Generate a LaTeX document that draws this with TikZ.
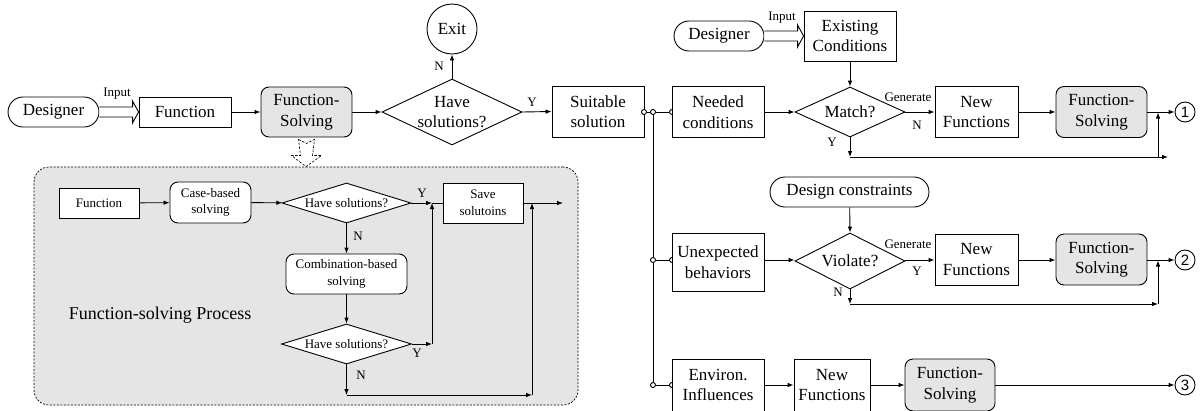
\documentclass[tikz,border=0pt]{standalone}
\usepackage{fontspec}
\setmainfont{Liberation Serif}
\newfontfamily\circfont{Liberation Sans}
\usetikzlibrary{shapes.geometric,arrows.meta,calc}
\tikzset{
  arr/.style={-{Latex[length=6pt,width=4.6pt]}},
  box/.style={draw, fill=white, inner sep=0pt, align=center},
  gbox/.style={draw, fill=gray!20, rounded corners=8pt, inner sep=0pt, align=center},
  rbox/.style={draw, fill=white, rounded corners=8pt, inner sep=0pt, align=center},
  stad/.style={draw, fill=white, rounded corners=15pt, inner sep=0pt, minimum height=30pt},
  dia/.style={diamond, draw, fill=white, inner sep=0pt},
  sc/.style={circle, draw, fill=white, minimum size=5pt, inner sep=0pt},
  numc/.style={circle, draw, fill=white, minimum size=20pt, inner sep=0pt, font=\circfont\fontsize{15}{15}\selectfont},
  lab/.style={inner sep=0pt, font=\fontsize{13}{15}\selectfont},
  ifont/.style={font=\fontsize{13}{16.5}\selectfont},
  mfont/.style={font=\fontsize{17}{20.5}\selectfont},
  panelbox/.style={draw, dash pattern=on 2pt off 1.5pt, line width=0.7pt, fill=gray!20, rounded corners=15pt, inner sep=0pt}
}
\begin{document}
\begin{tikzpicture}[x=1pt, y=-1pt, line width=0.9pt, font=\fontsize{17}{20.5}\selectfont]
\useasboundingbox (0,0) rectangle (1204,410);

% ---------- panel (function-solving process) ----------
\node[panelbox, minimum width=544pt, minimum height=238pt] (panel) at (306,286) {};

% ---------- top-left row ----------
\node[stad, minimum width=91pt] (des1) at (53.5,112) {Designer};
\node[box, minimum width=92pt, minimum height=30pt] (fun1) at (185,112) {Function};
\node[gbox, minimum width=91pt, minimum height=50pt] (fs1) at (306.5,112) {Function-\\Solving};
\node[dia, minimum width=140pt, minimum height=66pt,
  label={[mfont, align=center]center:{Have\\solutions?}}] (dmain) at (452,112) {};
\node[circle, draw, fill=white, minimum size=50pt, inner sep=0pt] (exit) at (452,29) {Exit};
\node[box, minimum width=92pt, minimum height=51pt] (suit) at (598,111.5) {Suitable\\solution};

\draw[fill=white] ($(des1.east)+(0,-5)$) -- ($(fun1.west)+(-6,-5)$) -- ($(fun1.west)+(-6,-11)$)
  -- (fun1.west) -- ($(fun1.west)+(-6,11)$) -- ($(fun1.west)+(-6,5)$) -- ($(des1.east)+(0,5)$);
\node[lab] (in1) at (117,94) {Input};
\draw[arr] (fun1) -- (fs1);
\draw[arr] (fs1) -- (dmain);
\draw[arr] (dmain.north) -- (exit.south);
\node[lab] (ln1) at (439,66) {N};
\draw[arr] (dmain.east) -- (suit.west);
\node[lab] (ly1) at (532,102) {Y};

% hollow dashed arrow
\draw[line width=0.6pt, dash pattern=on 2.5pt off 1.5pt]
  ($(fs1.south)+(-8,2)$) -- ($(fs1.south)+(0,6)$) -- ($(fs1.south)+(8,2)$)
  -- ($(fs1.south)+(6,18)$) -- ($(fs1.south)+(15,18)$) -- (panel.north)
  -- ($(fs1.south)+(-15,18)$) -- ($(fs1.south)+(-6,18)$) -- cycle;

% ---------- panel contents ----------
\node[box, ifont, minimum width=80pt, minimum height=30pt] (fun2) at (99,203) {Function};
\node[rbox, ifont, minimum width=81pt, minimum height=41pt] (case) at (210.5,202.5) {Case-based\\solving};
\node[dia, minimum width=129pt, minimum height=40pt,
  label={[ifont]center:Have solutions?}] (d1) at (346.5,203) {};
\node[box, ifont, minimum width=80pt, minimum height=40pt] (save) at (483,203) {Save\\solutoins};
\node[rbox, ifont, minimum width=121pt, minimum height=40pt] (comb) at (346.5,274) {Combination-based\\solving};
\node[dia, minimum width=130pt, minimum height=40pt,
  label={[ifont]center:Have solutions?}] (d2) at (346.5,344) {};
\node[font=\fontsize{18}{21}\selectfont, inner sep=0pt] (ptitle) at (160,315) {Function-solving Process};

\coordinate (j1) at (432,203);
\coordinate (j2) at (432,344);
\coordinate (j3) at (346.5,395);
\coordinate (j4) at (532,395);
\coordinate (j5) at (532,203);
\coordinate (jout) at (563,203);

\draw[arr] (fun2) -- (case);
\draw[arr] (case) -- (d1);
\draw[arr] (d1.east) -- (j1);
\draw (j1) -- (save.west);
\node[lab] (ly2) at (422,193) {Y};
\draw[arr] (d1.south) -- (comb.north);
\node[lab] (ln2) at (358,236) {N};
\draw[arr] (comb.south) -- (d2.north);
\draw[arr] (d2.east) -- (j2);
\draw[arr] (j2) -- (j1);
\node[lab] (ly3) at (417,353) {Y};
\draw[arr] (d2.south) -- (j3);
\node[lab] (ln3) at (361,375) {N};
\draw[arr] (j3) -- (j4);
\draw[arr] (j4) -- (j5);
\draw[arr] (save.east) -- (jout);

% ---------- branch connectors ----------
\node[sc] (c0) at (644,112) {};
\node[sc] (c1) at (653,112) {};
\node[sc] (c2) at (672,112) {};
\node[sc] (c3) at (653,260) {};
\node[sc] (c4) at (672,260) {};
\node[sc] (c5) at (653,385) {};
\node[sc] (c6) at (672,385) {};
\draw (c0) -- (c1);
\draw (c1) -- (c2);
\draw (c1) -- (c3);
\draw (c3) -- (c5);
\draw (c3) -- (c4);
\draw (c5) -- (c6);

% ---------- row 1 ----------
\node[stad, minimum width=90pt] (des2) at (719,36) {Designer};
\node[box, minimum width=92pt, minimum height=50pt] (exist) at (850,36) {Existing\\Conditions};
\node[box, minimum width=92pt, minimum height=51pt] (need) at (718,112) {Needed\\conditions};
\node[dia, minimum width=110pt, minimum height=50pt,
  label={[mfont]center:Match?}] (match) at (850,112) {};
\node[box, minimum width=83pt, minimum height=51pt] (nf1) at (976.5,112) {New\\Functions};
\node[gbox, minimum width=91pt, minimum height=51pt] (fs2) at (1101.5,112) {Function-\\Solving};
\node[numc] (o1) at (1185,112) {1};

\draw[fill=white] ($(des2.east)+(0,-5)$) -- ($(exist.west)+(-6,-5)$) -- ($(exist.west)+(-6,-11)$)
  -- (exist.west) -- ($(exist.west)+(-6,11)$) -- ($(exist.west)+(-6,5)$) -- ($(des2.east)+(0,5)$);
\node[lab] (in2) at (782,18) {Input};
\draw[arr] (exist) -- (match.north);
\draw[arr] (need) -- (match.west);
\draw[arr] (match.east) -- (nf1.west);
\node[lab] (lg1) at (908,97) {Generate};
\node[lab] (ln4) at (917,125) {N};
\draw[arr] (nf1) -- (fs2);
\draw[arr] (fs2) -- (o1);
\coordinate (k1) at (850,157);
\coordinate (k2) at (1168,157);
\coordinate (k3) at (1158,157);
\coordinate (k4) at (1158,112.5);
\draw[arr] (match.south) -- (k1);
\node[lab] (ly4) at (832,142) {Y};
\draw[arr] (k1) -- (k2);
\draw[arr] (k3) -- (k4);

% ---------- row 2 ----------
\node[stad, minimum width=159pt] (dc) at (849.5,192) {Design constraints};
\node[box, minimum width=92pt, minimum height=58pt] (unexp) at (718,262) {Unexpected\\behaviors};
\node[dia, minimum width=110pt, minimum height=56pt,
  label={[mfont]center:Violate?}] (vio) at (850,261) {};
\node[box, minimum width=83pt, minimum height=51pt] (nf2) at (976.5,259.5) {New\\Functions};
\node[gbox, minimum width=91pt, minimum height=51pt] (fs3) at (1101.5,259.5) {Function-\\Solving};
\node[numc] (o2) at (1185,260) {2};
\draw[arr] (dc) -- (vio.north);
\draw[arr] (c4 -| unexp.east) -- (c4 -| vio.west);
\draw[arr] (c4 -| vio.east) -- (c4 -| nf2.west);
\node[lab] (lg2) at (908,244) {Generate};
\node[lab] (ly5) at (917,271) {Y};
\draw[arr] (nf2.east |- c4) -- (fs3.west |- c4);
\draw[arr] (fs3.east |- c4) -- (o2);
\coordinate (m1) at (850,304);
\coordinate (m2) at (1158,304);
\coordinate (m3) at (1158,260.5);
\draw[arr] (vio.south) -- (m1);
\node[lab] (ln5) at (838,292) {N};
\draw[arr] (m1) -- (m2);
\draw[arr] (m2) -- (m3);

% ---------- row 3 ----------
\node[box, minimum width=92pt, minimum height=52pt] (env) at (718,385) {Environ.\\Influences};
\node[box, minimum width=76pt, minimum height=52pt] (nf3) at (832,385) {New\\Functions};
\node[gbox, minimum width=90pt, minimum height=52pt] (fs4) at (950,385) {Function-\\Solving};
\node[numc] (o3) at (1185,385) {3};
\draw[arr] (env) -- (nf3);
\draw[arr] (nf3) -- (fs4);
\draw[arr] (fs4) -- (o3);
\end{tikzpicture}
\end{document}
